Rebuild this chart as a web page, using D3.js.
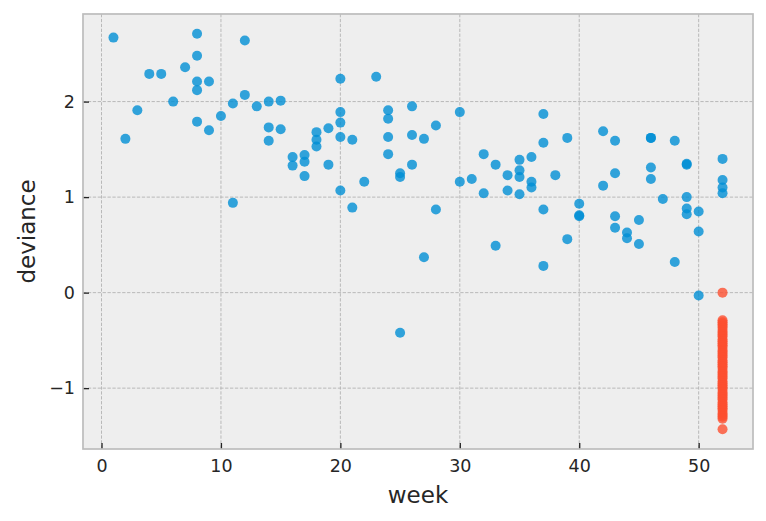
<!DOCTYPE html>
<html>
<head>
<meta charset="utf-8">
<script src="https://cdn.jsdelivr.net/npm/d3@7"></script>
<style>
  body { margin: 0; background: #fff; }
  text { font-family: "DejaVu Sans", sans-serif; fill: #262626; }
</style>
</head>
<body>
<div id="chart"></div>
<script>
// observed weeks and deviances (blue)
var blueWeek = [1, 2, 3, 4, 5, 6, 7,
  8, 8, 8, 8, 8, 9, 9, 10, 11, 11, 12, 12, 13,
  14, 14, 14, 15, 15, 16, 16, 17, 17, 17, 18, 18, 18, 19, 19,
  20, 20, 20, 20, 20, 21, 21, 22, 23, 24, 24, 24, 24,
  25, 25, 25, 26, 26, 26, 27, 27, 28, 28, 30, 30, 31, 32, 32,
  33, 33, 34, 34, 35, 35, 35, 35, 36, 36, 36, 37, 37, 37, 37,
  38, 39, 39, 40, 40, 40, 42, 42, 43, 43, 43, 43, 44, 44, 45, 45,
  46, 46, 46, 46, 47, 48, 48, 49, 49, 49, 49, 49, 50, 50, 50,
  52, 52, 52, 52];
var blueDev = [2.67, 1.61, 1.91, 2.29, 2.29, 2.00, 2.36,
  2.71, 2.48, 2.21, 2.12, 1.79, 2.21, 1.70, 1.85, 1.98, 0.94, 2.64, 2.07, 1.95,
  2.00, 1.73, 1.59, 2.01, 1.71, 1.42, 1.33, 1.44, 1.37, 1.22, 1.68, 1.60, 1.53, 1.72, 1.34,
  2.24, 1.89, 1.78, 1.63, 1.07, 1.60, 0.89, 1.16, 2.26, 1.91, 1.82, 1.63, 1.45,
  1.25, 1.21, -0.42, 1.95, 1.65, 1.34, 1.61, 0.37, 1.75, 0.87, 1.89, 1.16, 1.19, 1.45, 1.04,
  1.34, 0.49, 1.23, 1.07, 1.39, 1.28, 1.21, 1.03, 1.42, 1.16, 1.10, 1.87, 1.57, 0.87, 0.28,
  1.23, 1.62, 0.56, 0.93, 0.81, 0.80, 1.69, 1.12, 1.59, 1.25, 0.80, 0.68, 0.63, 0.57, 0.76, 0.51,
  1.62, 1.62, 1.31, 1.19, 0.98, 1.59, 0.32, 1.34, 1.35, 1.00, 0.88, 0.82, 0.85, 0.64, -0.03,
  1.40, 1.18, 1.10, 1.04];

// final week (red)
var redDev = [0.00, -0.29, -0.31, -0.33, -0.35, -0.37, -0.40, -0.42, -0.44, -0.46, -0.49,
  -0.51, -0.53, -0.55, -0.57, -0.60, -0.62, -0.64, -0.66, -0.68, -0.71, -0.73, -0.75,
  -0.77, -0.79, -0.82, -0.84, -0.86, -0.88, -0.90, -0.93, -0.95, -0.97, -0.99, -1.01,
  -1.04, -1.06, -1.08, -1.10, -1.12, -1.15, -1.17, -1.19, -1.21, -1.23, -1.26, -1.28,
  -1.30, -1.32, -1.43];
var redWeek = redDev.map(function() { return 52; });

var xTicks = [0, 10, 20, 30, 40, 50];
var yTicks = [-1, 0, 1, 2];

var W = 766, H = 521,
    margin = {top: 14, right: 13, bottom: 72, left: 83},
    width = W - margin.left - margin.right,
    height = H - margin.top - margin.bottom;

var svg = d3.select("#chart").append("svg").attr("width", W).attr("height", H),
    g = svg.append("g").attr("transform", "translate(" + margin.left + "," + margin.top + ")");

var allW = blueWeek.concat(redWeek), allD = blueDev.concat(redDev);
var xe = d3.extent(allW), ye = d3.extent(allD);
var xp = (xe[1] - xe[0]) * 0.05, yp = (ye[1] - ye[0]) * 0.05;

var x = d3.scaleLinear().domain([xe[0] - xp, xe[1] + xp]).range([0, width]);
var y = d3.scaleLinear().domain([ye[0] - yp, ye[1] + yp]).range([height, 0]);

g.append("rect")
    .attr("width", width)
    .attr("height", height)
    .attr("fill", "#eeeeee");

// grid
g.append("g").selectAll("line")
    .data(xTicks)
    .enter().append("line")
      .attr("x1", function(d) { return x(d); })
      .attr("x2", function(d) { return x(d); })
      .attr("y1", 0).attr("y2", height)
      .attr("stroke", "#b2b2b2").attr("stroke-width", 0.9)
      .attr("stroke-dasharray", "3.3,1.6");

g.append("g").selectAll("line")
    .data(yTicks)
    .enter().append("line")
      .attr("y1", function(d) { return y(d); })
      .attr("y2", function(d) { return y(d); })
      .attr("x1", 0).attr("x2", width)
      .attr("stroke", "#b2b2b2").attr("stroke-width", 0.9)
      .attr("stroke-dasharray", "3.3,1.6");

// points
g.append("g").selectAll("circle")
    .data(d3.range(blueWeek.length))
    .enter().append("circle")
      .attr("cx", function(i) { return x(blueWeek[i]); })
      .attr("cy", function(i) { return y(blueDev[i]); })
      .attr("r", 5)
      .attr("fill", "#008fd5")
      .attr("fill-opacity", 0.8);

g.append("g").selectAll("circle")
    .data(d3.range(redWeek.length))
    .enter().append("circle")
      .attr("cx", function(i) { return x(redWeek[i]); })
      .attr("cy", function(i) { return y(redDev[i]); })
      .attr("r", 5)
      .attr("fill", "#fc4f30")
      .attr("fill-opacity", 0.8);

// axes (ticks point inward)
var xAxis = g.append("g")
    .attr("transform", "translate(0," + height + ")")
    .call(d3.axisBottom(x).tickValues(xTicks).tickSize(-6).tickPadding(10)
      .tickFormat(d3.format("d")));
var yAxis = g.append("g")
    .call(d3.axisLeft(y).tickValues(yTicks).tickSize(-6).tickPadding(8)
      .tickFormat(function(d) { return d < 0 ? "\u2212" + Math.abs(d) : d; }));

[xAxis, yAxis].forEach(function(a) {
  a.select(".domain").remove();
  a.selectAll(".tick line").attr("stroke", "#222").attr("stroke-width", 1.3);
  a.selectAll(".tick text").attr("font-size", 17.5).attr("fill", "#1a1a1a")
    .style("font-family", "DejaVu Sans, sans-serif");
});
xAxis.selectAll(".tick text").attr("dy", "0.71em").attr("y", 11);

// frame
g.append("rect")
    .attr("width", width)
    .attr("height", height)
    .attr("fill", "none")
    .attr("stroke", "#bcbcbc")
    .attr("stroke-width", 1.7);

g.append("text")
    .attr("x", width / 2)
    .attr("y", height + 54)
    .attr("text-anchor", "middle")
    .attr("font-size", 23)
    .attr("fill", "#1a1a1a")
    .text("week");

g.append("text")
    .attr("transform", "translate(" + (-48) + "," + (height / 2) + ") rotate(-90)")
    .attr("text-anchor", "middle")
    .attr("font-size", 23)
    .attr("fill", "#1a1a1a")
    .text("deviance");
</script>
</body>
</html>
